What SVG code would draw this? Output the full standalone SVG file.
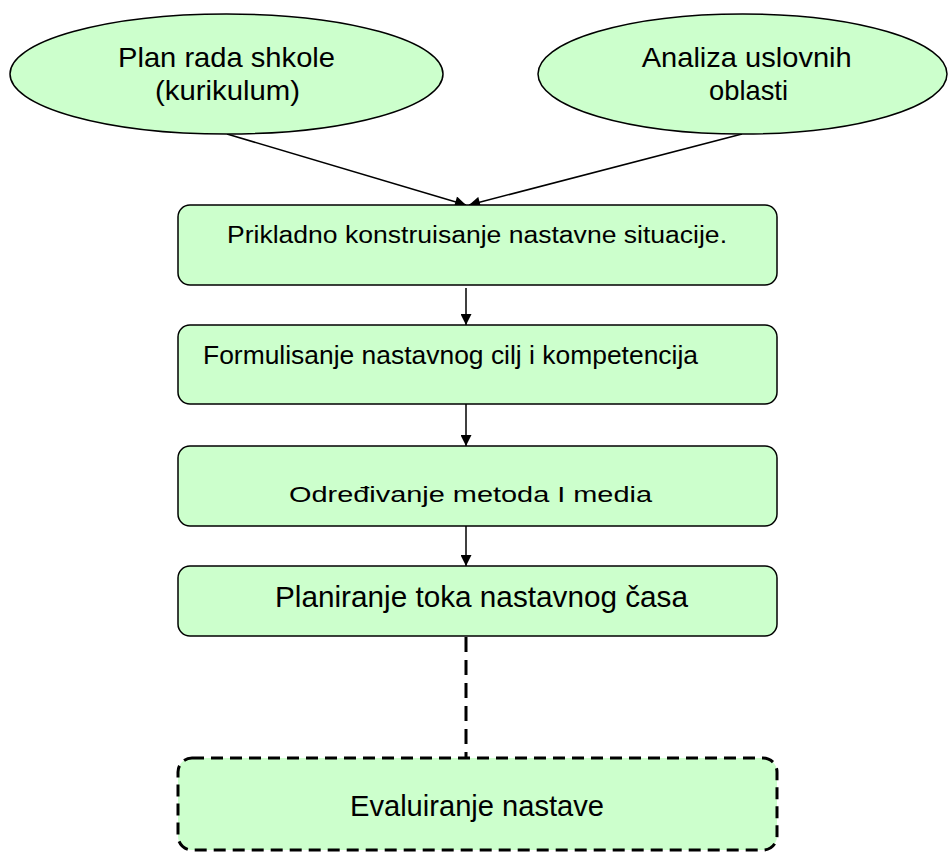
<svg xmlns="http://www.w3.org/2000/svg" width="949" height="853" viewBox="0 0 949 853">
<defs>
<style>
.n{fill:#ccffcc;stroke:#000;stroke-width:1.5}
.d{fill:#ccffcc;stroke:#000;stroke-width:3;stroke-dasharray:12 7}
.t{font-family:"Liberation Sans",Arial,sans-serif;fill:#000;text-anchor:middle}
.c{stroke:#000;stroke-width:1.5;fill:none}
.cd{stroke:#000;stroke-width:3;fill:none;stroke-dasharray:15 8}
</style>
<marker id="ah" viewBox="0 0 10 10" refX="10" refY="5" markerWidth="13" markerHeight="11" markerUnits="userSpaceOnUse" orient="auto">
<path d="M0,0 L10,5 L0,10 z" fill="#000"/>
</marker>
</defs>
<g id="connectors">
<line class="c" x1="227" y1="134" x2="466" y2="205" marker-end="url(#ah)"/>
<line class="c" x1="742" y1="134" x2="469" y2="205" marker-end="url(#ah)"/>
<line class="c" x1="466" y1="288" x2="466" y2="325" marker-end="url(#ah)"/>
<line class="c" x1="466" y1="404" x2="466" y2="446" marker-end="url(#ah)"/>
<line class="c" x1="466" y1="520" x2="466" y2="566" marker-end="url(#ah)"/>
<line class="cd" x1="466" y1="637" x2="466" y2="766"/>
</g>
<g id="plan">
<ellipse class="n" cx="226.5" cy="74" rx="216.5" ry="60"/>
<text class="t" x="226.5" y="67" font-size="28" textLength="217" lengthAdjust="spacingAndGlyphs">Plan rada shkole</text>
<text class="t" x="227.5" y="100" font-size="28" textLength="145" lengthAdjust="spacingAndGlyphs">(kurikulum)</text>
</g>
<g id="analiza">
<ellipse class="n" cx="742.5" cy="74" rx="204.5" ry="60"/>
<text class="t" x="746.7" y="67" font-size="28" textLength="210" lengthAdjust="spacingAndGlyphs">Analiza uslovnih</text>
<text class="t" x="748.5" y="100" font-size="28" textLength="79" lengthAdjust="spacingAndGlyphs">oblasti</text>
</g>
<g id="box1">
<rect class="n" x="178" y="205" width="599" height="80" rx="12"/>
<text class="t" x="477" y="243" font-size="23" textLength="500" lengthAdjust="spacingAndGlyphs">Prikladno konstruisanje nastavne situacije.</text>
</g>
<g id="box2">
<rect class="n" x="178" y="325" width="599" height="79" rx="12"/>
<text class="t" x="450.5" y="364" font-size="25" textLength="495" lengthAdjust="spacingAndGlyphs">Formulisanje nastavnog cilj i kompetencija</text>
</g>
<g id="box3">
<rect class="n" x="178" y="446" width="599" height="80" rx="12"/>
<text class="t" x="470.5" y="502" font-size="22" textLength="363" lengthAdjust="spacingAndGlyphs">Određivanje metoda I media</text>
</g>
<g id="box4">
<rect class="n" x="178" y="566" width="599" height="70" rx="12"/>
<text class="t" x="481.5" y="607" font-size="30" textLength="413" lengthAdjust="spacingAndGlyphs">Planiranje toka nastavnog časa</text>
</g>
<g id="box5">
<rect class="d" x="178" y="758" width="599" height="92" rx="14"/>
<text class="t" x="477" y="816" font-size="29" textLength="254" lengthAdjust="spacingAndGlyphs">Evaluiranje nastave</text>
</g>
</svg>
